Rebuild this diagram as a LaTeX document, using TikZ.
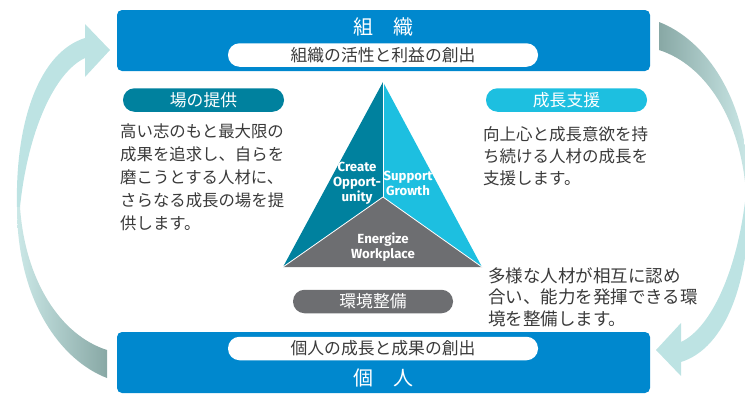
\documentclass[tikz,border=0pt]{standalone}
\usepackage{fontspec}
\setmainfont{Noto Sans CJK JP}
\newfontfamily\trifont{Fira Sans}
\definecolor{orgblue}{HTML}{0088CE}
\definecolor{tealc}{HTML}{00819E}
\definecolor{cyanc}{HTML}{1DBFE0}
\definecolor{grayc}{HTML}{6D6E71}
\definecolor{bodygray}{HTML}{3A3A3A}
\definecolor{arrlight}{HTML}{BDE3E3}
\definecolor{arrlighttwo}{HTML}{CBE8E7}
\definecolor{arrdark}{HTML}{88A8A5}
\begin{document}
\begin{tikzpicture}[x=1pt,y=-1pt,
  bluebox/.style={fill=orgblue, rounded corners=5pt, minimum width=533pt, minimum height=61pt, inner sep=0pt},
  pill/.style={rounded corners=11.5pt, minimum height=23.5pt, inner sep=0pt, font=\fontsize{16.8}{16.8}\selectfont},
  title/.style={text=white, inner sep=0pt, font=\fontsize{20}{20}\selectfont},
  body/.style={anchor=north west, align=left, inner sep=0pt, text=bodygray},
  tri/.style={text=white, align=center, inner sep=0pt, font=\trifont\bfseries\fontsize{13.2}{15}\selectfont},
  sep/.style={draw=white, line width=0.8pt}]
\useasboundingbox (0,0) rectangle (745,394);
\clip (0,0) rectangle (745,394);
% left arrow
\fill[arrlight] (110,50) -- (85,24) -- (85,38) .. controls (40,52) and (15,120) .. (17,207) -- (20,207) .. controls (28,130) and (55,72) .. (85,58) -- (85,77) -- cycle;
\shade[left color=arrlighttwo, right color=arrdark] (17,207) .. controls (17,300) and (60,360) .. (107,378) -- (107,350) .. controls (60,335) and (25,280) .. (20,207) -- cycle;
% right arrow
\shade[left color=arrdark, right color=arrlighttwo] (749,193) .. controls (749,100) and (706,40) .. (659,22) -- (659,50) .. controls (706,65) and (741,120) .. (746,193) -- cycle;
\fill[arrlight] (656,350) -- (681,376) -- (681,362) .. controls (726,348) and (751,280) .. (749,193) -- (746,193) .. controls (738,270) and (711,328) .. (681,342) -- (681,323) -- cycle;
% top box
\node[bluebox] (org) at (383.5,40.5) {};
\node[title] (orgt) at (383,27) {組　織};
\node[pill, fill=white, text=bodygray, minimum width=310pt] (orgp) at (383,55) {組織の活性と利益の創出};
% bottom box
\node[bluebox] (ind) at (383.5,362.5) {};
\node[pill, fill=white, text=bodygray, minimum width=310pt] (indp) at (383,348.5) {個人の成長と成果の創出};
\node[title] (indt) at (383,378) {個　人};
% pills
\node[pill, fill=tealc, text=white, minimum width=161pt] (p1) at (203.5,100) {場の提供};
\node[pill, fill=cyanc, text=white, minimum width=161pt] (p2) at (566.5,100) {成長支援};
\node[pill, fill=grayc, text=white, minimum width=160pt] (p3) at (373,301.5) {環境整備};
% body texts
\node[body, font=\fontsize{16.4}{23}\selectfont] (t1) at (120,124) {高い志のもと最大限の\\成果を追求し、自らを\\磨こうとする人材に、\\さらなる成長の場を提\\供します。};
\node[body, font=\fontsize{16.5}{22}\selectfont] (t2) at (483,126) {向上心と成長意欲を持\\ち続ける人材の成長を\\支援します。};
\node[body, font=\fontsize{17.5}{21.5}\selectfont] (t3) at (488,267) {多様な人材が相互に認め\\合い、能力を発揮できる環\\境を整備します。};
% triangle
\coordinate (A) at (383,82);
\coordinate (L) at (283,267);
\coordinate (R) at (482,267);
\coordinate (C) at (383,197);
\fill[tealc] (A) -- (C) -- (L) -- cycle;
\fill[cyanc] (A) -- (R) -- (C) -- cycle;
\fill[grayc] (L) -- (C) -- (R) -- cycle;
\draw[sep] (A) -- (C);
\draw[sep] (L) -- (C) -- (R);
\node[tri] (tc) at (357,183) {Create\\Opport-\\unity};
\node[tri] (ts) at (408,183.5) {Support\\Growth};
\node[tri] (te) at (383,247.5) {Energize\\Workplace};
\end{tikzpicture}
\end{document}
